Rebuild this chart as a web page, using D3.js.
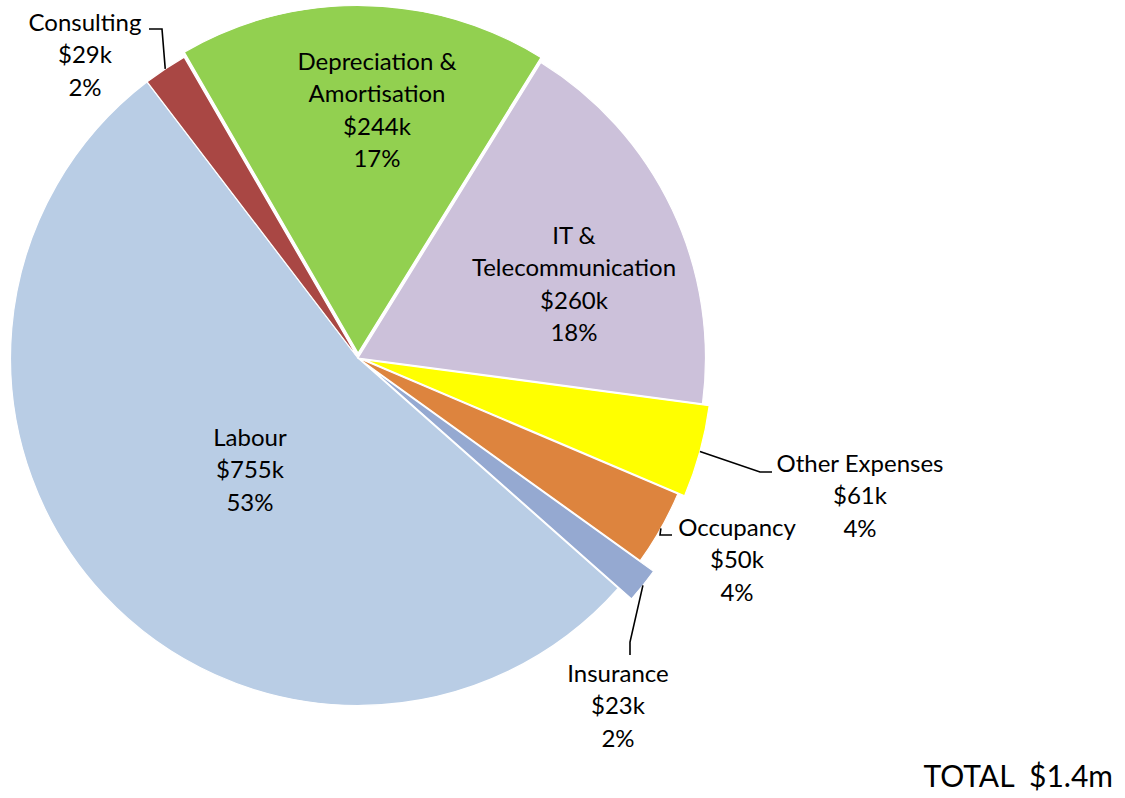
<!DOCTYPE html>
<html>
<head>
<meta charset="utf-8">
<script src="https://cdnjs.cloudflare.com/ajax/libs/d3/7.8.5/d3.min.js"></script>
<style>
    body{margin:0;background:#fff;}
    text{font-family:Lato,"Open Sans",sans-serif;fill:#000;}
</style>
</head>
<body>
<div id="chart"></div>
<script>
// data (in $k)
var categories=["Labour","Consulting","Depreciation & Amortisation","IT & Telecommunication","Other Expenses","Occupancy","Insurance"];
var values=[755,29,244,260,61,50,23];
var colors=["#B9CDE5","#A94744","#92D050","#CCC1DA","#FFFF00","#DD843E","#95A9D1"];
// how far each slice is pulled out of the pie
var explode=[0,0,5,0,7,0,17];
var totalLabel="TOTAL";

// 0.size
var svgW=1125, svgH=798;
var cx=358, cy=358, radius=347.5;
var firstAngle=131.5*Math.PI/180;

// label layout: anchor x, first baseline, wrapped or not, leader line (elbow + end)
var labelLayout={
    "Labour":{x:250,y:446},
    "Consulting":{x:85,y:31,leader:[[162,29],[149,29]]},
    "Depreciation & Amortisation":{x:377,y:70,wrap:true},
    "IT & Telecommunication":{x:574,y:244,wrap:true},
    "Other Expenses":{x:860,y:472,leader:[[760,472],[772,472]]},
    "Occupancy":{x:737,y:536,leader:[[660,535],[672,535]]},
    "Insurance":{x:618,y:682,leader:[[630,642],[630,655]]}
};
var lineH=32.3;

// 1.DOM
var svg=d3.select("#chart").append("svg")
    .attr("width",svgW)
    .attr("height",svgH);

var total=d3.sum(values);
var fmtPct=d3.format(".0%");

var pie=d3.pie()
    .sort(null)
    .value(function(d){return d.value;})
    .startAngle(firstAngle)
    .endAngle(firstAngle+2*Math.PI);

var data=categories.map(function(c,i){
    return {name:c,value:values[i],color:colors[i],explode:explode[i]};
});
var arcs=pie(data);

var arc=d3.arc().innerRadius(0).outerRadius(radius);

function offset(d){
    var a=(d.startAngle+d.endAngle)/2;
    return [d.data.explode*Math.sin(a),-d.data.explode*Math.cos(a)];
}

var gPie=svg.append("g")
    .attr("transform","translate("+cx+","+cy+")");

gPie.selectAll("path")
    .data(arcs)
    .enter().append("path")
    .attr("transform",function(d){var o=offset(d);return "translate("+o[0]+","+o[1]+")";})
    .attr("d",arc)
    .style("fill",function(d){return d.data.color;})
    .style("stroke","#fff")
    .style("stroke-width",1.2)
    .style("stroke-linejoin","miter");

// leader lines from slice edge to label
arcs.forEach(function(d){
    var lay=labelLayout[d.data.name];
    if(!lay.leader) return;
    var a=(d.startAngle+d.endAngle)/2;
    var r=radius+d.data.explode;
    var pts=[[cx+r*Math.sin(a),cy-r*Math.cos(a)]].concat(lay.leader);
    svg.append("path")
        .attr("d",d3.line()(pts))
        .style("fill","none")
        .style("stroke","#000")
        .style("stroke-width",1.6);
});

// labels
arcs.forEach(function(d){
    var lay=labelLayout[d.data.name];
    var name=d.data.name;
    var lines=lay.wrap ? [name.slice(0,name.indexOf("&")+1),name.slice(name.indexOf("&")+2)] : [name];
    lines.push("$"+d.data.value+"k");
    lines.push(fmtPct(d.data.value/total));
    var t=svg.append("text")
        .attr("text-anchor","middle")
        .style("font-size","24px");
    lines.forEach(function(s,i){
        t.append("tspan")
            .attr("x",lay.x)
            .attr("y",lay.y+i*lineH)
            .text(s);
    });
});

// total
svg.append("text")
    .attr("x",1113)
    .attr("y",787)
    .attr("text-anchor","end")
    .style("font-size","30px")
    .style("white-space","pre")
    .text(totalLabel+"  $"+d3.format(".1f")(total/1000)+"m");
</script>
</body>
</html>
